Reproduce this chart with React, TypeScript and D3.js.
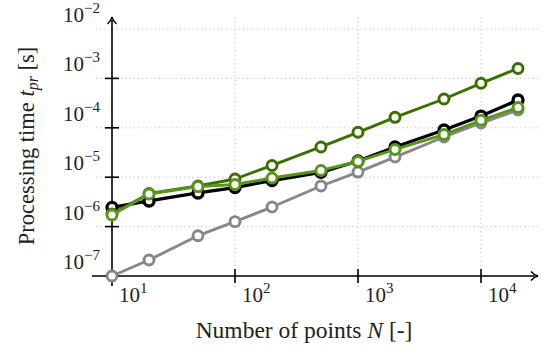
import React from "react";
import * as d3 from "d3";

// Problem sizes (number of points)
const pointCounts = [10, 20, 50, 100, 200, 500, 1000, 2000, 5000, 10000, 20000];

// Processing times in seconds for each method
const timesBlack = [2.44e-6, 3.3e-6, 4.79e-6, 6.18e-6, 8.57e-6, 1.25e-5, 2.13e-5, 4.09e-5, 9.02e-5, 1.73e-4, 3.65e-4];
const timesGray = [1.0e-7, 2.11e-7, 6.54e-7, 1.26e-6, 2.49e-6, 6.64e-6, 1.27e-5, 2.56e-5, 6.51e-5, 1.25e-4, 2.29e-4];
const timesDarkGreen = [1.8e-6, 4.68e-6, 6.64e-6, 9.2e-6, 1.73e-5, 4.09e-5, 8.11e-5, 1.63e-4, 3.83e-4, 7.96e-4, 1.59e-3];
const timesLightGreen = [1.72e-6, 4.57e-6, 6.43e-6, 7.11e-6, 9.63e-6, 1.37e-5, 2.08e-5, 3.64e-5, 7.31e-5, 1.42e-4, 2.58e-4];

// Decade ticks
const xTickExponents = [1, 2, 3, 4];
const yTickExponents = [-2, -3, -4, -5, -6, -7];

const W = 542;
const H = 351;
const FONT = "'Liberation Serif', 'DejaVu Serif', serif";

export default function App() {
  const x = d3.scaleLog().domain([10, 10000]).range([112, 481]);
  const y = d3.scaleLog().domain([1e-7, 1e-2]).range([276, 29]);

  const line = d3
    .line<number>()
    .x((_, i) => x(pointCounts[i]))
    .y((d) => y(d));

  const series = [
    { values: timesGray, color: "#878787", width: 2.9 },
    { values: timesBlack, color: "#000000", width: 3.3 },
    { values: timesDarkGreen, color: "#3a6f00", width: 2.9 },
    { values: timesLightGreen, color: "#58951a", width: 2.9 },
  ];

  const xAxisY = y(1e-7);
  const yAxisX = x(10);
  const gridColor = "#b4b4b4";

  return (
    <svg
      width={W}
      height={H}
      viewBox={`0 0 ${W} ${H}`}
      style={{ position: "absolute", left: 0, top: 0, background: "#fff", fontFamily: FONT }}
    >
      {/* dotted grid */}
      <g stroke={gridColor} strokeWidth={1} strokeDasharray="1 3.2" fill="none">
        {xTickExponents.slice(1).map((e) => (
          <line key={"gx" + e} x1={x(10 ** e)} x2={x(10 ** e)} y1={17} y2={287} />
        ))}
        {yTickExponents.slice(0, 5).map((e) => (
          <line key={"gy" + e} x1={96} x2={540} y1={y(10 ** e)} y2={y(10 ** e)} />
        ))}
      </g>

      {/* axes with arrow tips */}
      <g stroke="#000" strokeWidth={1.6} fill="none">
        <line x1={92} x2={535} y1={xAxisY} y2={xAxisY} />
        <line x1={yAxisX} x2={yAxisX} y1={286} y2={20} />
        <path d={`M ${531} ${xAxisY - 4.5} Q ${534} ${xAxisY - 1} ${538} ${xAxisY} Q ${534} ${xAxisY + 1} ${531} ${xAxisY + 4.5}`} strokeWidth={1.4} />
        <path d={`M ${yAxisX - 4.5} ${24} Q ${yAxisX - 1} ${21} ${yAxisX} ${17} Q ${yAxisX + 1} ${21} ${yAxisX + 4.5} ${24}`} strokeWidth={1.4} />
        {xTickExponents.slice(1).map((e) => (
          <line key={"tx" + e} x1={x(10 ** e)} x2={x(10 ** e)} y1={xAxisY - 7} y2={xAxisY + 7} />
        ))}
        {yTickExponents.slice(1).map((e) => (
          <line key={"ty" + e} x1={yAxisX - 7} x2={yAxisX + 7} y1={y(10 ** e)} y2={y(10 ** e)} />
        ))}
      </g>

      {/* tick labels */}
      <g fill="#222" fontSize={21}>
        {xTickExponents.map((e) => (
          <text key={"lx" + e} x={x(10 ** e) + 7} y={xAxisY + 26}>
            10<tspan fontSize={15} dy={-9}>{e}</tspan>
          </text>
        ))}
        {yTickExponents.map((e) => (
          <text key={"ly" + e} x={100} y={y(10 ** e) - 7} textAnchor="end">
            10<tspan fontSize={15} dy={-9}>{"\u2212" + Math.abs(e)}</tspan>
          </text>
        ))}
      </g>

      {/* axis titles */}
      <text x={304} y={338} textAnchor="middle" fontSize={23.5} fill="#222">
        Number of points <tspan fontStyle="italic">N</tspan> [-]
      </text>
      <text
        transform="translate(34,146) rotate(-90)"
        textAnchor="middle"
        fontSize={22.5}
        fill="#222"
      >
        Processing time <tspan fontStyle="italic">t</tspan>
        <tspan fontStyle="italic" fontSize={16} dy={4}>pr</tspan>
        <tspan dy={-4}> [s]</tspan>
      </text>

      {/* series */}
      {series.map((s, si) => (
        <g key={"s" + si}>
          <path d={line(s.values) ?? ""} fill="none" stroke={s.color} strokeWidth={s.width} strokeLinejoin="round" />
          {s.values.map((v, i) => (
            <circle
              key={i}
              cx={x(pointCounts[i])}
              cy={y(v)}
              r={5}
              fill="#fff"
              stroke={s.color}
              strokeWidth={s.width}
            />
          ))}
        </g>
      ))}
    </svg>
  );
}
